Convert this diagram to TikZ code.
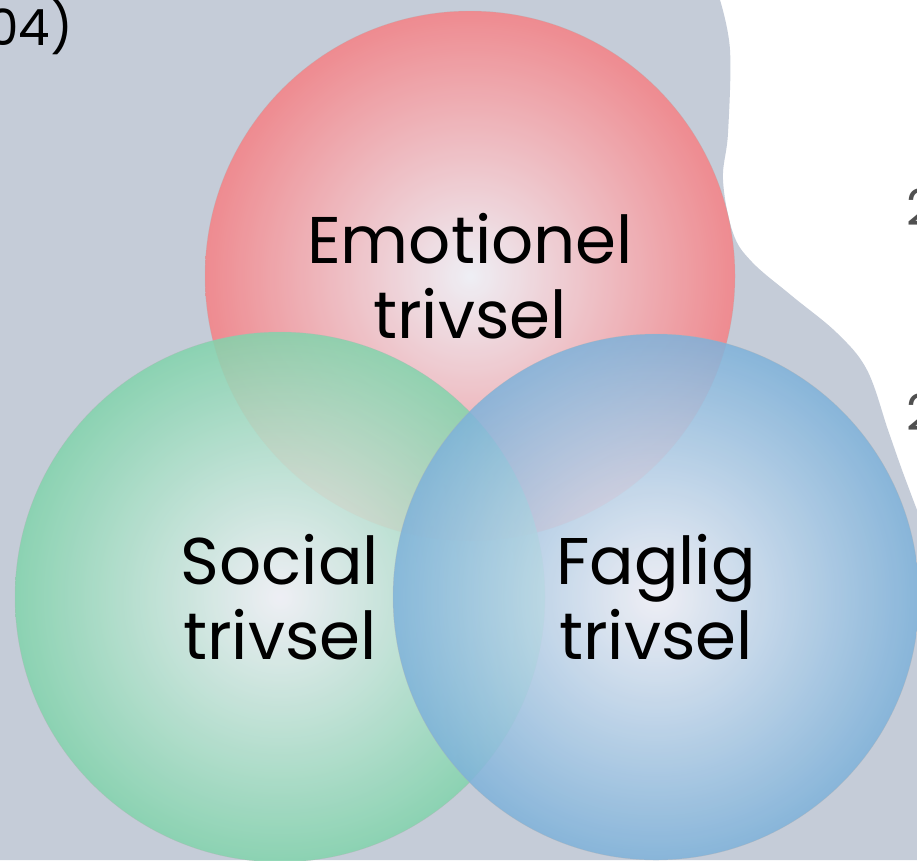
\documentclass[tikz,border=0pt]{standalone}
\usepackage{fontspec}
\setmainfont{Poppins}
\usepackage{xcolor}
\usepackage{tikz}

\definecolor{blobgray}{RGB}{197,204,216}
\definecolor{rosered}{RGB}{246,128,132}
\definecolor{mintgreen}{RGB}{130,212,172}
\definecolor{skyblue}{RGB}{126,178,218}
\definecolor{palecore}{RGB}{246,245,250}
\definecolor{notegray}{RGB}{80,80,80}

\tikzset{
  bubble/.style={circle, minimum size=#1, inner sep=0pt, draw=gray!60, line width=0.4pt, fill opacity=0.85, draw opacity=0.5},
  bubble/.default=530pt,
  biglabel/.style={align=center, font=\fontsize{66}{75}\selectfont, text=black},
  cutlabel/.style={inner sep=0pt, font=\fontsize{50}{56}\selectfont}
}

\begin{document}
\begin{tikzpicture}[x=1pt, y=-1pt]
    \useasboundingbox (0,0) rectangle (917,860);
    \clip (0,0) rectangle (917,860);
    \fill[white] (0,0) rectangle (917,860);
    % grey backdrop with wavy right edge
    \fill[blobgray] (0,0) -- plot[smooth, tension=0.6] coordinates {(720,0) (730,50) (728,133) (723,180) (733,233) (752,262) (792,296) (837,333) (867,370) (888,430) (902,470) (917,510)} -- (917,860) -- (0,860) -- cycle;
    % cut-off texts at the edges
    \node[cutlabel, anchor=base east, text=black] (yeartail) at (73,45) {04)};
    \node[cutlabel, anchor=base west, text=notegray] (rightone) at (906,225) {2};
    \node[cutlabel, anchor=base west, text=notegray] (righttwo) at (906,430) {2};
    % the three circles
    \node[bubble, inner color=palecore, outer color=rosered] (emocircle) at (470,276) {};
    \node[bubble, inner color=palecore, outer color=mintgreen] (soccircle) at (280,597) {};
    \node[bubble=526pt, inner color=palecore, outer color=skyblue] (fagcircle) at (656,597) {};
    % labels
    \node[biglabel] (emotext) at (emocircle) {Emotionel\\trivsel};
    \node[biglabel] (soctext) at (soccircle) {Social\\trivsel};
    \node[biglabel] (fagtext) at (fagcircle) {Faglig\\trivsel};
\end{tikzpicture}
\end{document}
